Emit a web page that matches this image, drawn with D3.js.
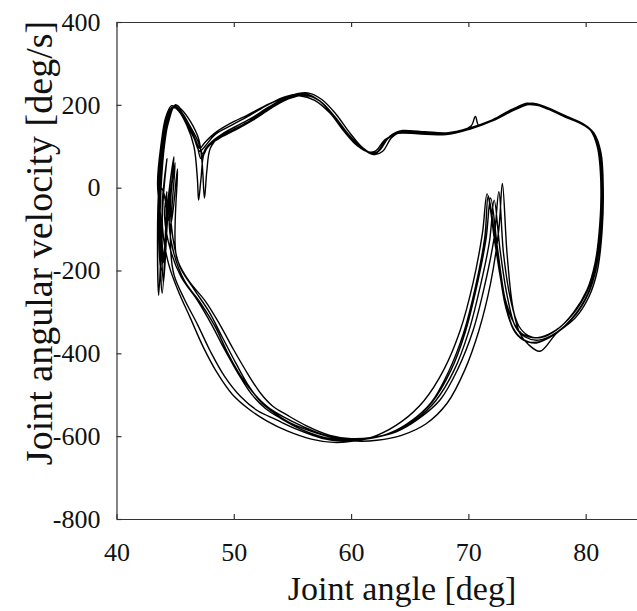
<!DOCTYPE html>
<html>
<head>
<meta charset="utf-8">
<script src="https://cdn.jsdelivr.net/npm/d3@7"></script>
<style>
  body { margin: 0; background: #fff; }
  svg { display: block; }
</style>
</head>
<body>
<div id="vis"></div>
<script>
// SVG dims
var width = 637;
var height = 611;
var serif = "'Liberation Serif', 'Times New Roman', Times, 'DejaVu Serif', serif";

// Axis ticks
var xTicks = [40, 50, 60, 70, 80];
var yTicks = [-800, -600, -400, -200, 0, 200, 400];

var cycle1 = [[43.8,0],[44.0,100],[44.4,168],[44.9,197],[45.4,188],[46.1,155],[46.8,110],[47.2,70],[47.6,95],[48.5,120],[50.0,145],[51.5,168],[53.0,195],[54.5,218],[56.0,226],[57.3,210],[58.5,175],[59.7,130],[60.8,98],[61.8,82],[62.4,90],[63.2,120],[64.3,135],[66.0,133],[68.0,130],[70.0,143],[72.0,163],[73.8,188],[75.2,203],[76.5,193],[78.2,172],[79.6,155],[80.6,135],[81.2,90],[81.4,0],[81.3,-100],[80.9,-190],[80.2,-255],[79.0,-310],[77.6,-348],[76.0,-368],[74.8,-360],[74.0,-335],[73.3,-260],[72.7,-150],[72.2,-30],[71.8,-130],[71.0,-240],[70.0,-350],[68.8,-440],[67.2,-515],[65.5,-560],[63.5,-592],[61.5,-605],[59.8,-608],[58.0,-600],[56.0,-578],[54.2,-553],[52.9,-530],[51.8,-500],[50.6,-455],[49.5,-400],[48.4,-335],[47.2,-280],[45.8,-225],[44.9,-160],[44.5,-90],[44.8,30],[44.4,-60],[44.0,-230],[43.8,-120]];
var cycle2 = [[43.6,10],[43.9,110],[44.3,172],[44.8,195],[45.3,185],[46.0,150],[46.6,100],[46.9,20],[47.0,-30],[47.2,20],[47.5,85],[48.3,112],[49.8,138],[51.3,160],[52.8,188],[54.3,212],[55.8,228],[57.1,214],[58.3,180],[59.5,137],[60.6,102],[61.6,84],[62.2,86],[63.0,115],[64.1,133],[65.8,134],[67.8,131],[69.8,140],[71.8,160],[73.6,186],[75.0,204],[76.4,195],[78.0,175],[79.5,157],[80.5,138],[81.1,95],[81.4,5],[81.3,-95],[80.9,-185],[80.3,-250],[79.2,-305],[77.8,-345],[76.3,-370],[75.0,-372],[74.0,-350],[73.2,-290],[72.5,-170],[71.7,-20],[71.4,-120],[70.6,-240],[69.6,-350],[68.3,-445],[66.8,-520],[65.0,-566],[63.0,-596],[61.0,-608],[59.3,-612],[57.5,-605],[55.5,-585],[53.6,-560],[52.0,-538],[50.6,-505],[49.2,-455],[48.0,-395],[46.9,-330],[45.8,-270],[44.9,-210],[44.6,-140],[44.7,-60],[45.0,60],[44.5,-40],[43.8,-200],[43.6,-90]];
var cycle3 = [[43.7,5],[44.0,95],[44.5,165],[45.0,200],[45.5,190],[46.3,160],[47.0,118],[47.3,60],[47.5,-25],[47.7,40],[48.0,95],[48.8,125],[50.3,150],[51.8,172],[53.3,200],[54.8,222],[56.3,229],[57.5,213],[58.7,178],[59.9,132],[61.0,96],[62.0,80],[62.7,88],[63.5,122],[64.6,137],[66.3,135],[68.3,133],[70.2,148],[70.6,172],[70.9,150],[72.2,166],[74.0,190],[75.4,204],[76.7,194],[78.4,172],[79.8,154],[80.7,132],[81.3,85],[81.5,-5],[81.4,-105],[81.0,-200],[80.3,-262],[79.1,-315],[77.5,-352],[76.1,-395],[75.1,-378],[74.4,-352],[73.8,-290],[73.3,-160],[72.9,10],[72.6,-100],[71.9,-230],[70.9,-345],[69.7,-440],[68.2,-520],[66.4,-570],[64.3,-598],[62.2,-610],[60.5,-612],[58.8,-606],[56.8,-590],[54.8,-568],[53.5,-545],[52.4,-520],[51.3,-480],[50.2,-425],[49.0,-360],[47.9,-300],[46.6,-245],[45.4,-190],[44.8,-120],[44.6,-50],[44.9,75],[44.4,-30],[43.9,-255],[43.7,-110]];
var cycle4 = [[43.8,0],[44.1,105],[44.5,170],[44.9,194],[45.5,184],[46.2,152],[46.9,115],[47.4,80],[47.8,100],[48.7,118],[50.2,140],[51.7,164],[53.2,192],[54.7,215],[56.1,223],[57.4,208],[58.6,172],[59.8,128],[60.9,96],[61.9,80],[62.5,92],[63.3,124],[64.4,138],[66.1,132],[68.1,128],[70.1,141],[72.1,162],[73.9,187],[75.3,201],[76.6,192],[78.3,170],[79.7,153],[80.6,133],[81.2,88],[81.4,-2],[81.3,-102],[80.9,-195],[80.2,-258],[79.0,-312],[77.5,-350],[75.8,-375],[74.6,-365],[73.8,-338],[73.1,-265],[72.5,-150],[71.9,-25],[71.5,-125],[70.7,-240],[69.7,-352],[68.5,-442],[66.9,-518],[65.2,-562],[63.2,-595],[61.2,-607],[59.5,-610],[57.7,-603],[55.7,-583],[54.0,-557],[52.7,-533],[51.5,-498],[50.4,-450],[49.2,-390],[48.1,-330],[46.9,-272],[45.5,-215],[44.6,-150],[44.1,-70],[44.3,-10],[44.0,-180],[43.8,-80]];
var cycle5 = [[43.5,10],[43.8,105],[44.2,170],[44.7,198],[45.2,190],[45.9,158],[46.6,120],[47.1,88],[47.6,102],[48.4,128],[49.9,152],[51.4,175],[52.9,200],[54.4,220],[55.9,225],[57.2,212],[58.4,178],[59.6,133],[60.7,100],[61.7,85],[62.3,87],[63.1,118],[64.2,134],[65.9,131],[67.9,129],[69.9,142],[71.9,161],[73.7,189],[75.1,202],[76.4,196],[78.1,174],[79.5,156],[80.5,136],[81.1,92],[81.3,2],[81.2,-98],[80.8,-190],[80.1,-252],[78.9,-306],[77.4,-345],[75.9,-362],[74.7,-355],[73.9,-328],[73.0,-255],[72.3,-140],[71.6,-15],[71.2,-110],[70.4,-230],[69.3,-345],[67.9,-440],[66.2,-515],[64.3,-565],[62.2,-598],[60.2,-612],[58.5,-615],[56.6,-607],[54.6,-588],[52.8,-563],[51.3,-535],[49.9,-500],[48.6,-448],[47.4,-385],[46.3,-315],[45.3,-252],[44.5,-190],[44.0,-120],[43.9,-40],[44.3,70],[44.0,-20],[43.6,-260],[43.5,-100]];
var cycle6 = [[43.6,0],[43.9,98],[44.3,165],[44.8,193],[45.3,187],[46.0,157],[46.7,118],[47.1,95],[47.5,108],[48.3,130],[49.7,155],[51.2,176],[52.7,198],[54.2,216],[55.6,222],[56.9,211],[58.2,180],[59.4,136],[60.5,102],[61.5,86],[62.1,89],[62.9,116],[64.0,131],[65.7,130],[67.7,128],[69.7,139],[71.7,158],[73.5,185],[74.9,200],[76.2,197],[77.9,176],[79.4,158],[80.4,139],[81.0,98],[81.3,10],[81.2,-90],[80.8,-182],[80.1,-248],[79.0,-300],[77.6,-342],[76.2,-362],[75.1,-357],[74.3,-334],[73.6,-270],[73.0,-160],[72.6,-10],[72.2,-120],[71.4,-235],[70.4,-345],[69.1,-438],[67.6,-512],[65.8,-557],[63.8,-590],[61.8,-603],[60.0,-606],[58.2,-598],[56.2,-575],[54.6,-550],[53.3,-527],[52.3,-497],[51.2,-450],[50.0,-392],[48.8,-330],[47.6,-275],[46.1,-222],[45.1,-165],[45.2,45],[44.6,-90],[44.0,-10],[43.8,0]];

var cycles = [cycle1, cycle2, cycle3, cycle4, cycle5, cycle6];
var trace = d3.merge(cycles);

var svg = d3.select("#vis").append("svg")
    .attr("width", width)
    .attr("height", height)
    .attr("font-family", serif);

// Scales (right edge of the box falls just outside the frame)
var xScale = d3.scaleLinear().domain([40, 85]).range([116.5, 644.3]);
var yScale = d3.scaleLinear().domain([-800, 400]).range([519, 22]);

// Trace
var line = d3.line()
    .x(function(d) { return xScale(d[0]); })
    .y(function(d) { return yScale(d[1]); })
    .curve(d3.curveCatmullRom.alpha(0.5));

svg.append("path")
    .datum(trace)
    .attr("d", line)
    .attr("fill", "none")
    .attr("stroke", "#000")
    .attr("stroke-width", 1.4)
    .attr("stroke-linejoin", "round");

// Axes, ticks point inward, plain hyphen minus in labels
var axisColor = "#333";
var fmt = function(d) { return String(d); };

svg.append("g")
    .attr("transform", "translate(0," + yScale(-800) + ")")
    .call(d3.axisBottom(xScale).tickValues(xTicks).tickSizeInner(-5).tickSizeOuter(0).tickPadding(24).tickFormat(fmt));

svg.append("g")
    .attr("transform", "translate(0," + yScale(400) + ")")
    .call(d3.axisTop(xScale).tickValues(xTicks).tickSizeInner(-5).tickSizeOuter(0).tickFormat(""));

svg.append("g")
    .attr("transform", "translate(" + xScale(40) + ",0)")
    .call(d3.axisLeft(yScale).tickValues(yTicks).tickSizeInner(-5).tickSizeOuter(0).tickPadding(16).tickFormat(fmt));

svg.append("g")
    .attr("transform", "translate(" + xScale(85) + ",0)")
    .call(d3.axisRight(yScale).tickValues(yTicks).tickSizeInner(-5).tickSizeOuter(0).tickFormat(""));

svg.selectAll("g").attr("font-family", serif);

svg.selectAll(".domain, .tick line")
    .attr("stroke", axisColor)
    .attr("stroke-width", 1.2);

svg.selectAll(".tick text")
    .attr("font-size", 26)
    .attr("fill", "#111");

// Axis titles
svg.append("text")
    .attr("x", 402)
    .attr("y", 600)
    .attr("text-anchor", "middle")
    .attr("font-size", 34)
    .attr("fill", "#111")
    .text("Joint angle [deg]");

svg.append("text")
    .attr("transform", "translate(52,243) rotate(-90)")
    .attr("text-anchor", "middle")
    .attr("font-size", 38)
    .attr("fill", "#111")
    .text("Joint angular velocity [deg/s]");
</script>
</body>
</html>
